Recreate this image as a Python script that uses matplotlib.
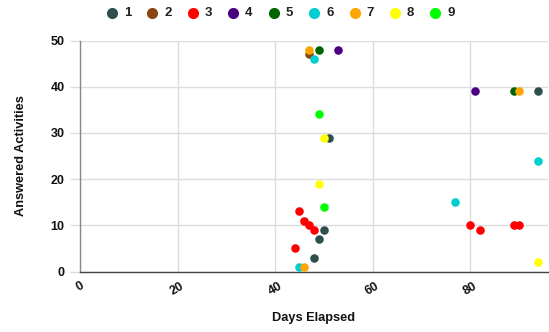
import matplotlib
matplotlib.use("Agg")
import matplotlib.pyplot as plt

plt.rcParams['font.family'] = ['Liberation Sans', 'DejaVu Sans']

series_names = ["1", "2", "3", "4", "5", "6", "7", "8", "9"]
series_colors = ["#2F4F4F", "#8B4513", "#FF0000", "#4B0082", "#006400",
                 "#00CED1", "#FFA500", "#FFFF00", "#00FF00"]

days_1 = [48, 49, 50, 51, 94]
acts_1 = [3, 7, 9, 29, 39]
days_2 = [47]
acts_2 = [47]
days_3 = [44, 45, 46, 47, 48, 80, 82, 89, 90]
acts_3 = [5, 13, 11, 10, 9, 10, 9, 10, 10]
days_4 = [53, 81]
acts_4 = [48, 39]
days_5 = [49, 89]
acts_5 = [48, 39]
days_6 = [45, 48, 77, 94]
acts_6 = [1, 46, 15, 24]
days_7 = [46, 47, 90]
acts_7 = [1, 48, 39]
days_8 = [49, 50, 94]
acts_8 = [19, 29, 2]
days_9 = [49, 50]
acts_9 = [34, 14]

all_days = [days_1, days_2, days_3, days_4, days_5, days_6, days_7, days_8, days_9]
all_acts = [acts_1, acts_2, acts_3, acts_4, acts_5, acts_6, acts_7, acts_8, acts_9]

x_ticks = [0, 20, 40, 60, 80]
y_ticks = [0, 10, 20, 30, 40, 50]

W, H = 549, 332
fig = plt.figure(figsize=(W / 100, H / 100), dpi=100)
ax = fig.add_axes([80 / W, 1 - 271.5 / H, 468 / W, 231 / H])

for name, col, d, a in zip(series_names, series_colors, all_days, all_acts):
    ax.scatter(d, a, s=38, color=col, linewidths=0, label=name, zorder=3)

ax.set_xlim(0, 96)
ax.set_ylim(0, 50)
ax.set_xticks(x_ticks)
ax.set_yticks(y_ticks)
ax.grid(True, color="#dddddd", linewidth=1, zorder=0)
ax.set_axisbelow(True)

for s in ["top", "right"]:
    ax.spines[s].set_visible(False)
ax.spines["left"].set_color("#888888")
ax.spines["bottom"].set_color("#444444")
ax.spines["left"].set_linewidth(1)
ax.spines["bottom"].set_linewidth(1)

ax.tick_params(axis="y", length=7, color="#dddddd", width=1, pad=4,
               labelsize=9, labelcolor="#111111")
ax.tick_params(axis="x", length=0, pad=6, labelsize=9, labelcolor="#111111")
for lab in ax.get_yticklabels():
    lab.set_fontweight("bold")
for lab in ax.get_xticklabels():
    lab.set_fontweight("bold")
    lab.set_rotation(30)
    lab.set_ha("center")

ax.set_xlabel("Days Elapsed", fontsize=9.2, fontweight="bold", color="#111111")
ax.set_ylabel("Answered Activities", fontsize=9.2, fontweight="bold", color="#111111")
ax.xaxis.set_label_coords(0.5, -0.175)
ax.yaxis.set_label_coords(-0.113, 0.5)

leg = fig.legend(loc="center", bbox_to_anchor=(280 / W, 1 - 13.3 / H),
                 ncol=9, frameon=False, fontsize=9.5, handlelength=1.0,
                 handletextpad=0.4, columnspacing=1.1, borderpad=0,
                 markerscale=1.3, scatterpoints=1)
for t in leg.get_texts():
    t.set_fontweight("bold")
    t.set_color("#222222")

fig.savefig("out.png", dpi=100)
